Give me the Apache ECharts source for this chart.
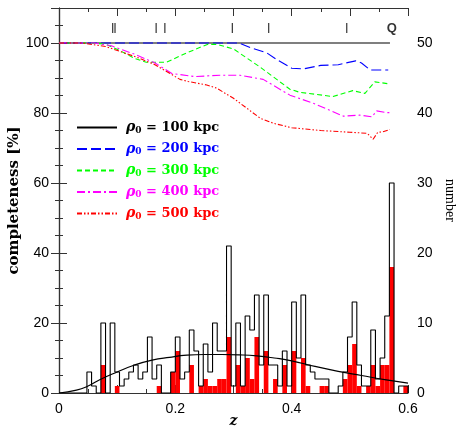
<!DOCTYPE html>
<html><head><meta charset="utf-8">
<script src="https://cdn.jsdelivr.net/npm/echarts/dist/echarts.min.js"></script>
<style>html,body{margin:0;padding:0;background:#fff}#c{width:458px;height:427px}</style>
</head><body><div id="c"></div>
<script>
// ---------- data ----------
const zBinEdges = [0,0.008,0.016,0.024,0.032,0.04,0.048,0.056,0.064,0.072,0.08,0.088,0.096,0.104,0.112,0.12,0.128,0.136,0.144,0.152,0.16,0.168,0.176,0.184,0.192,0.2,0.208,0.216,0.224,0.232,0.24,0.248,0.256,0.264,0.272,0.28,0.288,0.296,0.304,0.312,0.32,0.328,0.336,0.344,0.352,0.36,0.368,0.376,0.384,0.392,0.4,0.408,0.416,0.424,0.432,0.44,0.448,0.456,0.464,0.472,0.48,0.488,0.496,0.504,0.512,0.52,0.528,0.536,0.544,0.552,0.56,0.568,0.576,0.584,0.592,0.6];
const countAll = [0,0,0,0,0,0,3,1,0,10, 0,10,3,1,2,3,4,2,3,8, 2,4,0,0,3,8,2,3,9,6, 1,7,3,10,6,6,21,1,10,1, 11,9,14,4,14,4,4,1,6,1, 13,5,14,4,3,2,2,2,0,0, 1,3,8,13,4,1,1,9,2,5, 11,30,0,1,1];
const countRed = [0,0,0,0,0,0,0,0,0,4, 0,0,1,0,0,0,0,0,0,0, 0,1,0,0,3,6,0,0,4,0, 1,2,1,1,2,2,8,0,4,1, 5,2,8,0,6,0,2,0,4,0, 6,0,5,1,0,0,1,1,0,0, 0,2,4,7,1,0,1,4,1,4, 4,18,0,0,1];

const curveZ = [0,0.03,0.05,0.07,0.1,0.13,0.16,0.19,0.22,0.25,0.28,0.31,0.34,0.37,0.4,0.44,0.48,0.52,0.56,0.6];
const curveN = [0,0.4,1.0,1.9,3.0,4.0,4.7,5.1,5.4,5.5,5.5,5.45,5.3,5.0,4.6,3.8,3.1,2.5,1.9,1.4];

const c100Z = [0,0.569];
const c100V = [100,100];
const c200Z = [0,0.31,0.33,0.357,0.375,0.4,0.42,0.45,0.48,0.51,0.52,0.535,0.566];
const c200V = [100,100,98.6,97.2,95.2,92.8,92.6,93.6,93.8,94.9,94.3,92.3,92.3];
const c300Z = [0,0.05,0.08,0.105,0.13,0.15,0.185,0.22,0.255,0.272,0.3,0.345,0.397,0.414,0.471,0.505,0.526,0.543,0.569];
const c300V = [100,100,99.7,97.8,95.6,94.5,94.5,97.2,99.6,99.6,98.3,93.2,86.8,85.9,84.7,86.4,85.6,88.9,88.3];
const c400Z = [0,0.06,0.09,0.11,0.13,0.165,0.194,0.234,0.277,0.311,0.351,0.397,0.437,0.489,0.517,0.538,0.546,0.563,0.569];
const c400V = [100,100,99.2,98,96.8,94.3,91.3,90.4,90.8,90.8,89.6,85.1,82.8,79.1,79.4,78.9,80.6,80.1,80.1];
const c500Z = [0,0.04,0.08,0.131,0.165,0.208,0.222,0.254,0.271,0.3,0.346,0.37,0.4,0.45,0.5,0.53,0.54,0.548,0.556,0.569];
const c500V = [100,100,99,96.1,93.8,89.6,89,88,87.1,84.2,78.5,77,75.8,75,74.5,74.2,72.5,74.5,74.6,75.3];

const markZ = [0.0923,0.0963,0.167,0.182,0.298,0.3605,0.4947];
const markLabelZ = [0.572];
const markLabel = ['Q'];
const markLevel = 104.3;

const rhoNames = ['100','200','300','400','500'];
const xTickLabels = {0:'0',2:'0.2',4:'0.4',6:'0.6'};

// ---------- build ----------
const pair = (xs, ys) => xs.map((x, i) => [x, ys[i]]);
const outline = [[zBinEdges[0], 0]];
countAll.forEach((n, k) => { outline.push([zBinEdges[k], n]); outline.push([zBinEdges[k + 1], n]); });
outline.push([zBinEdges[zBinEdges.length - 1], 0]);
const redBins = countRed.map((n, k) => [zBinEdges[k], zBinEdges[k + 1], n]);

const AX = '#333';
const labelFont = {fontFamily: 'Liberation Sans', fontSize: 14, color: '#000'};
const colors = ['#000000', '#0000ff', '#00ff00', '#ff00ff', '#ff0000'];
const dashes = ['solid', [10, 4], [5, 3], [8, 3, 2, 3], [5, 2, 1.5, 2, 1.5, 2]];
const compZ = [c100Z, c200Z, c300Z, c400Z, c500Z];
const compV = [c100V, c200V, c300V, c400V, c500V];

const xCommon = {
  type: 'value', min: 0, max: 0.6, interval: 0.1,
  axisLine: {show: true, onZero: false, lineStyle: {color: AX, width: 1.2}},
  axisTick: {show: true, inside: true, length: 8, lineStyle: {color: AX}},
  minorTick: {show: true, splitNumber: 2, length: 4, lineStyle: {color: AX}},
  splitLine: {show: false}
};

const chart = echarts.init(document.getElementById('c'), null, {renderer: 'canvas'});
const series = [];
series.push({
  type: 'custom', name: 'red', xAxisIndex: 0, yAxisIndex: 1, silent: true, z: 2,
  data: redBins, encode: {x: [0, 1], y: 2},
  renderItem: (params, api) => {
    const n = api.value(2);
    if (!n) return null;
    const p0 = api.coord([api.value(0), 0]);
    const p1 = api.coord([api.value(1), n]);
    return {type: 'rect', shape: {x: p0[0], y: p1[1], width: p1[0] - p0[0], height: p0[1] - p1[1]}, style: {fill: '#ff0000'}};
  }
});
series.push({
  type: 'line', name: 'all', xAxisIndex: 0, yAxisIndex: 1, data: outline, symbol: 'none', z: 3,
  lineStyle: {color: '#000', width: 1.1}, animation: false
});
series.push({
  type: 'line', name: 'curve', xAxisIndex: 0, yAxisIndex: 1, data: pair(curveZ, curveN), symbol: 'none', smooth: true, z: 4,
  lineStyle: {color: '#000', width: 1.2}
});
rhoNames.forEach((nm, i) => {
  series.push({
    type: 'line', name: nm, xAxisIndex: 0, yAxisIndex: 0, data: pair(compZ[i], compV[i]), symbol: 'none', z: 5,
    color: colors[i],
    lineStyle: {color: colors[i], width: 1.1, type: dashes[i]}
  });
});
series.push({
  type: 'scatter', name: 'marks', xAxisIndex: 0, yAxisIndex: 0, data: markZ.map(z => [z, markLevel]),
  symbol: 'rect', symbolSize: [1.2, 10], itemStyle: {color: '#000'}, z: 6
});
series.push({
  type: 'scatter', name: 'Q', xAxisIndex: 0, yAxisIndex: 0, data: markLabelZ.map(z => [z, markLevel]),
  symbolSize: 0, itemStyle: {color: 'rgba(0,0,0,0)'},
  label: {show: true, position: 'inside', formatter: p => markLabel[p.dataIndex], fontFamily: 'Liberation Sans', fontWeight: 'bold', fontSize: 13, color: '#000'}
});

chart.setOption({
  animation: false,
  backgroundColor: '#fff',
  grid: {left: 59, right: 50, top: 8, bottom: 34, containLabel: false, outerBoundsMode: 'none'},
  legend: {
    orient: 'vertical', left: 76, top: 120.5, padding: 0, itemWidth: 40, itemHeight: 14, itemGap: 7,
    itemStyle: {opacity: 0, color: 'rgba(0,0,0,0)', borderWidth: 0},
    data: rhoNames.map((nm, i) => ({name: nm, textStyle: {color: colors[i]}})),
    formatter: nm => '{r|ρ}{s|0}{t| = ' + nm + ' kpc}',
    textStyle: {
      fontFamily: 'DejaVu Serif', fontWeight: 'bold', fontSize: 13, padding: [0, 0, 0, 4],
      rich: {
        r: {fontFamily: 'DejaVu Serif', fontWeight: 'bold', fontStyle: 'italic', fontSize: 14},
        s: {fontFamily: 'DejaVu Serif', fontWeight: 'bold', fontSize: 9, verticalAlign: 'bottom', padding: [6, 0, 0, 0]},
        t: {fontFamily: 'DejaVu Serif', fontWeight: 'bold', fontSize: 13}
      }
    }
  },
  xAxis: [
    Object.assign({}, xCommon, {
      position: 'bottom', name: 'z', nameLocation: 'middle', nameGap: 21, nameMoveOverlap: false,
      nameTextStyle: {fontFamily: 'DejaVu Serif', fontWeight: 'bold', fontStyle: 'italic', fontSize: 14, color: '#000'},
      axisLabel: Object.assign({}, labelFont, {margin: 9, formatter: v => {const k = Math.round(v * 10); return xTickLabels[k] !== undefined ? xTickLabels[k] : '';}})
    }),
    Object.assign({}, xCommon, {position: 'top', axisLabel: {show: false}})
  ],
  yAxis: [
    {
      type: 'value', position: 'left', min: 0, max: 110, interval: 20,
      name: 'completeness [%]', nameLocation: 'middle', nameGap: 37, nameMoveOverlap: false,
      nameTextStyle: {fontFamily: 'DejaVu Serif', fontWeight: 'bold', fontSize: 15, color: '#000'},
      axisLine: {show: true, lineStyle: {color: AX, width: 1.2}},
      axisTick: {show: true, inside: true, length: 8, lineStyle: {color: AX}},
      minorTick: {show: true, splitNumber: 4, length: 4, lineStyle: {color: AX}},
      splitLine: {show: false},
      axisLabel: Object.assign({}, labelFont, {margin: 10, showMaxLabel: false, formatter: v => v > 100 ? '' : String(v)})
    },
    {
      type: 'value', position: 'right', min: 0, max: 55, interval: 10,
      name: 'number', nameLocation: 'middle', nameGap: 35, nameRotate: -90, nameMoveOverlap: false,
      nameTextStyle: {fontFamily: 'Liberation Serif', fontSize: 14, color: '#000'},
      axisLine: {show: true, lineStyle: {color: AX, width: 1.2}},
      axisTick: {show: true, inside: true, length: 8, lineStyle: {color: AX}},
      minorTick: {show: true, splitNumber: 4, length: 4, lineStyle: {color: AX}},
      splitLine: {show: false},
      axisLabel: Object.assign({}, labelFont, {margin: 9, showMaxLabel: false, formatter: v => v > 50 ? '' : String(v)})
    }
  ],
  series: series
});
</script></body></html>
